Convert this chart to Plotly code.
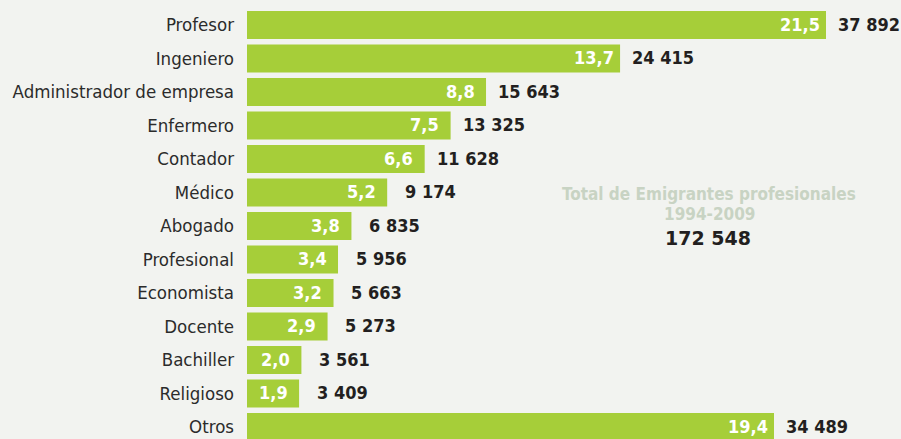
import plotly.graph_objects as go

categories = ["Profesor", "Ingeniero", "Administrador de empresa", "Enfermero", "Contador",
              "Médico", "Abogado", "Profesional", "Economista", "Docente", "Bachiller",
              "Religioso", "Otros"]
percents = [21.5, 13.7, 8.8, 7.5, 6.6, 5.2, 3.8, 3.4, 3.2, 2.9, 2.0, 1.9, 19.4]
counts = [37892, 24415, 15643, 13325, 11628, 9174, 6835, 5956, 5663, 5273, 3561, 3409, 34489]
total_label = "Total de Emigrantes profesionales"
period_label = "1994-2009"
total_value = 172548

NARROW = "'DejaVu Sans Condensed', sans-serif"
GREEN = "#a6ce39"
BG = "#f2f3f0"


def fmt_int(v):
    return f"{v:,}".replace(",", " ")


def fmt_pct(v):
    return f"{v:.1f}".replace(".", ",")


idx = list(range(len(categories)))

fig = go.Figure()
fig.add_trace(go.Bar(
    x=counts, y=idx, orientation="h",
    marker=dict(color=GREEN, line=dict(width=0)),
    width=0.84, hoverinfo="skip",
))

annotations = []
for i, (c, p) in enumerate(zip(counts, percents)):
    annotations.append(dict(
        x=c, y=i, xref="x", yref="y", text=f"<b>{fmt_pct(p)}</b>",
        showarrow=False, xanchor="center", yanchor="middle", xshift=-26, yshift=1,
        font=dict(family=NARROW, size=18, color="white"),
    ))
    annotations.append(dict(
        x=c, y=i, xref="x", yref="y", text=f"<b>{fmt_int(c)}</b>",
        showarrow=False, xanchor="center", yanchor="middle", xshift=43, yshift=1,
        font=dict(family=NARROW, size=18, color="#231f20"),
    ))

annotations.append(dict(
    x=(709 - 247) / 654, y=1 - 194 / 439, xref="x domain", yref="paper",
    text=f"<b>{total_label}</b>",
    showarrow=False, xanchor="center", yanchor="middle",
    font=dict(family=NARROW, size=17, color="#c8d3c3"),
))
annotations.append(dict(
    x=(709 - 247) / 654, y=1 - 214 / 439, xref="x domain", yref="paper",
    text=f"<b>{period_label}</b>",
    showarrow=False, xanchor="center", yanchor="middle",
    font=dict(family=NARROW, size=17, color="#c8d3c3"),
))
annotations.append(dict(
    x=(708 - 247) / 654, y=1 - 238 / 439, xref="x domain", yref="paper",
    text=f"<b>{fmt_int(total_value)}</b>",
    showarrow=False, xanchor="center", yanchor="middle",
    font=dict(family="DejaVu Sans, sans-serif", size=19, color="#231f20"),
))

fig.update_layout(
    width=901, height=439,
    margin=dict(l=247, r=0, t=0, b=0, autoexpand=False),
    paper_bgcolor=BG, plot_bgcolor=BG,
    showlegend=False,
    annotations=annotations,
    xaxis=dict(range=[0, 37892 * 654 / 579], visible=False, fixedrange=True),
    yaxis=dict(
        range=[(439 - 25) / 33.5, -25 / 33.5],
        tickvals=idx, ticktext=categories,
        showgrid=False, zeroline=False, showline=False, ticks="",
        ticklabelstandoff=12, automargin=False,
        tickfont=dict(family=NARROW, size=18.5, color="#2b2b2b"),
        fixedrange=True,
    ),
)

fig.write_html(
    "out.html",
    config={"displayModeBar": False},
    post_script="document.body.style.margin='0';document.body.style.overflow='hidden';"
                "document.body.style.background='" + BG + "';",
)
